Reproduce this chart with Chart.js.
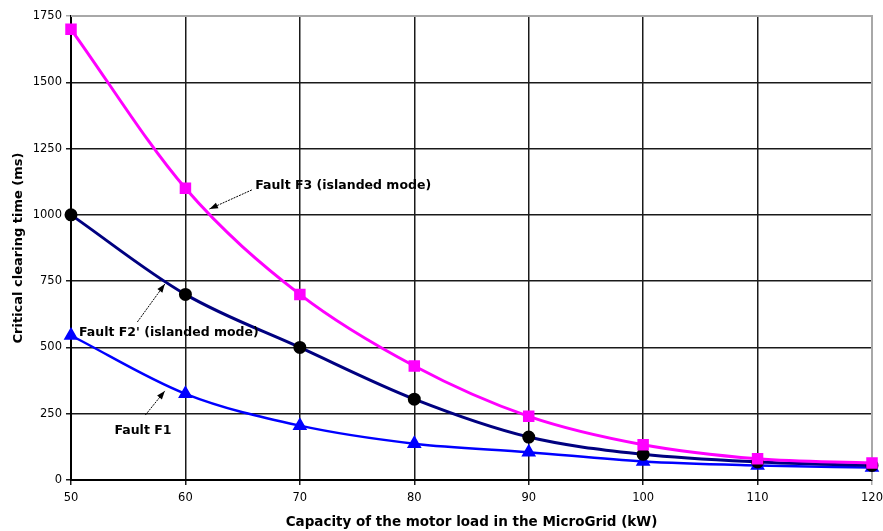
<!DOCTYPE html>
<html>
<head>
<meta charset="utf-8">
<script src="https://cdn.jsdelivr.net/npm/chart.js@4"></script>
<style>
  body { margin: 0; background: #fff; }
  #wrap { width: 883px; height: 531px; }
</style>
</head>
<body>
<div id="wrap"><canvas id="chart" width="883" height="531"></canvas></div>
<script>
"use strict"

// motor load capacity (kW)
const loads = [50, 60, 70, 80, 90, 100, 110, 120];
// critical clearing time (ms)
const faultF3 = [1700, 1100, 700, 430, 240, 133, 80, 64];
const faultF2 = [1000, 700, 500, 305, 162, 97, 68, 55];
const faultF1 = [545, 325, 205, 137, 105, 70, 55, 47];
const yTicks = [0, 250, 500, 750, 1000, 1250, 1500, 1750];

// callout labels, anchored in data units: text pos, arrow start, arrow end
const callouts = [
  { text: 'Fault F3 (islanded mode)', at: [66.1, 1108], from: [65.8, 1094], to: [62.1, 1022] },
  { text: "Fault F2' (islanded mode)", at: [50.7, 554], from: [55.8, 596], to: [58.2, 739] },
  { text: 'Fault F1', at: [53.8, 185], from: [56.5, 245], to: [58.2, 336] }
];

const fontFamily = '"DejaVu Sans", Tahoma, sans-serif';
const labelFont = 'bold 12.5px ' + fontFamily;

const calloutPlugin = {
  id: 'callouts',
  afterDatasetsDraw(chart) {
    const ctx = chart.ctx;
    const xs = chart.scales.x, ys = chart.scales.y;
    ctx.save();
    callouts.forEach(c => {
      const x0 = xs.getPixelForValue(c.from[0]), y0 = ys.getPixelForValue(c.from[1]);
      const x1 = xs.getPixelForValue(c.to[0]), y1 = ys.getPixelForValue(c.to[1]);
      ctx.strokeStyle = '#000';
      ctx.lineWidth = 1;
      ctx.setLineDash([2, 1]);
      ctx.beginPath();
      ctx.moveTo(x0, y0);
      ctx.lineTo(x1, y1);
      ctx.stroke();
      ctx.setLineDash([]);
      // arrow head
      const a = Math.atan2(y1 - y0, x1 - x0);
      ctx.fillStyle = '#000';
      ctx.beginPath();
      ctx.moveTo(x1, y1);
      ctx.lineTo(x1 - 9 * Math.cos(a - 0.35), y1 - 9 * Math.sin(a - 0.35));
      ctx.lineTo(x1 - 9 * Math.cos(a + 0.35), y1 - 9 * Math.sin(a + 0.35));
      ctx.closePath();
      ctx.fill();
      // text
      ctx.font = labelFont;
      ctx.textAlign = 'left';
      ctx.textBaseline = 'middle';
      ctx.fillText(c.text, xs.getPixelForValue(c.at[0]), ys.getPixelForValue(c.at[1]));
    });
    ctx.restore();
  }
};

// gray frame on the top and right edge of the plot area, like the original
const framePlugin = {
  id: 'frame',
  beforeDatasetsDraw(chart) {
    const a = chart.chartArea, ctx = chart.ctx;
    ctx.save();
    ctx.strokeStyle = '#a8a8a8';
    ctx.lineWidth = 2;
    ctx.beginPath();
    ctx.moveTo(a.left, a.top);
    ctx.lineTo(a.right, a.top);
    ctx.lineTo(a.right, a.bottom);
    ctx.stroke();
    ctx.restore();
  }
};

const series = (label, data, color, style, radius, width) => ({
  label: label,
  data: data.map((v, i) => ({ x: loads[i], y: v })),
  borderColor: color,
  backgroundColor: style === 'circle' ? '#000' : color,
  pointBackgroundColor: style === 'circle' ? '#000' : color,
  pointBorderColor: style === 'circle' ? '#000' : color,
  pointStyle: style,
  pointRadius: radius,
  borderWidth: width,
  clip: false,
  cubicInterpolationMode: 'monotone'
});

new Chart(document.getElementById('chart'), {
  type: 'line',
  data: {
    labels: loads,
    datasets: [
      series('Fault F3 (islanded mode)', faultF3, '#ff00ff', 'rect', 6, 3),
      series("Fault F2' (islanded mode)", faultF2, '#000080', 'circle', 5, 3),
      series('Fault F1', faultF1, '#0000ff', 'triangle', 6, 2.5)
    ]
  },
  plugins: [framePlugin, calloutPlugin],
  options: {
    responsive: false,
    animation: false,
    layout: { padding: { left: 0, top: 16, right: 11, bottom: 0 } },
    plugins: { legend: { display: false }, tooltip: { enabled: false } },
    scales: {
      x: {
        type: 'linear',
        min: 50, max: 120,
        afterFit: s => { s.height = 51; s.paddingRight = 0; },
        afterBuildTicks: s => { s.ticks = loads.map(v => ({ value: v })); },
        grid: {
          color: c => c.tick && c.tick.value === 120 ? '#a8a8a8' : '#1a1a1a',
          lineWidth: 1.5,
          tickLength: 5
        },
        border: { color: '#000', width: 2 },
        ticks: { color: '#000', font: { family: fontFamily, size: 11.5 }, padding: 6, maxRotation: 0, callback: v => String(v) },
        title: {
          display: true,
          text: 'Capacity of the motor load in the MicroGrid (kW)',
          color: '#000',
          font: { family: fontFamily, size: 13.5, weight: 'bold' },
          padding: { top: 2, bottom: 0 }
        }
      },
      y: {
        min: 0, max: 1750,
        afterFit: s => { s.width = 71; },
        afterBuildTicks: s => { s.ticks = yTicks.map(v => ({ value: v })); },
        grid: {
          color: c => c.tick && c.tick.value === 1750 ? '#a8a8a8' : '#1a1a1a',
          lineWidth: 1.5,
          tickLength: 5
        },
        border: { color: '#000', width: 2 },
        ticks: { color: '#000', font: { family: fontFamily, size: 11.5 }, padding: 4, callback: v => String(v) },
        title: {
          display: true,
          text: 'Critical clearing time (ms)',
          color: '#000',
          font: { family: fontFamily, size: 13, weight: 'bold' },
          padding: { top: 11, bottom: 4 }
        }
      }
    }
  }
});
</script>
</body>
</html>
